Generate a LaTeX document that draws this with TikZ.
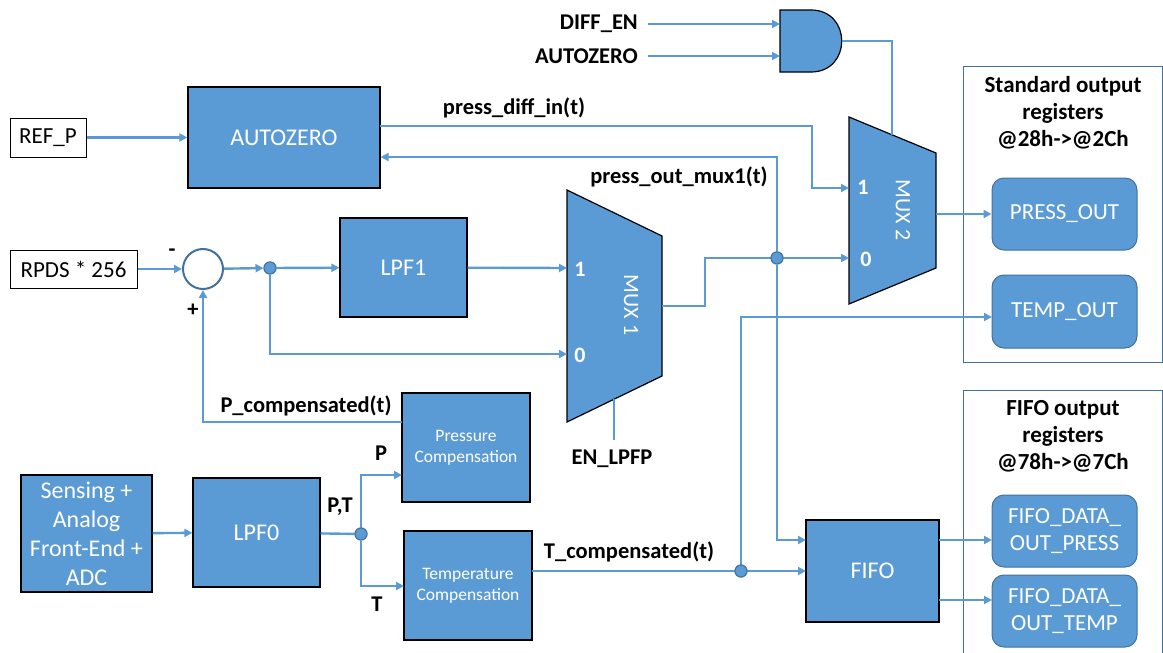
\documentclass[tikz,border=0pt]{standalone}
\usepackage{fontspec}
\setmainfont{Carlito}
\usetikzlibrary{positioning,arrows.meta}

\definecolor{blockblue}{HTML}{5B9BD5}
\definecolor{edgeblue}{HTML}{41719C}

\tikzset{
  wire/.style={draw=blockblue, line width=2.4pt},
  sig/.style={wire, -{Triangle[length=8pt,width=8pt]}},
  block/.style={draw=black, fill=blockblue, line width=1.2pt, text=white,
    align=center, inner sep=2pt, font=\fontsize{24}{29}\selectfont},
  smallblock/.style={block, font=\fontsize{17.5}{21}\selectfont},
  reg/.style={draw=edgeblue, fill=blockblue, line width=1pt, rounded corners=12pt,
    text=white, align=center, minimum width=145pt,
    font=\fontsize{23}{27}\selectfont},
  inbox/.style={draw=black, fill=white, line width=1pt,
    font=\fontsize{23}{26}\selectfont},
  group/.style={draw=edgeblue, line width=1pt},
  lbl/.style={font=\bfseries\fontsize{22.5}{27}\selectfont, inner sep=0pt, align=center},
  title/.style={font=\bfseries\fontsize{23}{27}\selectfont, inner sep=0pt, align=center},
  muxin/.style={font=\bfseries\fontsize{22}{24}\selectfont, text=white, inner sep=0pt},
  muxname/.style={font=\fontsize{22}{24}\selectfont, text=white, rotate=-90, inner sep=0pt},
  mux/.style={draw=black, fill=blockblue, line width=1.2pt},
  joint/.style={circle, draw=edgeblue, fill=blockblue, line width=1pt,
    minimum size=12pt, inner sep=0pt},
}

\begin{document}
\begin{tikzpicture}[x=1pt,y=-1pt]
\useasboundingbox (0,0) rectangle (1163,653);

% output register groups
\draw[group] (963,66) rectangle (1162,362);
\draw[group] (963,390) rectangle (1162,670);
\node[title] (stdtitle) at (1063,113) {Standard output\\registers\\@28h->@2Ch};
\node[title] (fifotitle) at (1063,436) {FIFO output\\registers\\@78h->@7Ch};

% inputs
\node[inbox, minimum width=76pt, minimum height=39pt] (refp) at (48,137.5) {REF\_P};
\node[inbox, minimum width=127pt, minimum height=38pt] (rpds) at (73.5,269) {RPDS * 256};

% blocks
\node[block, minimum width=192pt, minimum height=101pt] (autozero) at (284,137.5) {AUTOZERO};
\node[block, minimum width=127pt, minimum height=99pt] (lpf1) at (403.5,267.5) {LPF1};
\node[block, minimum width=131pt, minimum height=117pt] (sensing) at (86.5,533.5)
  {Sensing +\\Analog\\Front-End +\\ADC};
\node[block, minimum width=127pt, minimum height=109pt] (lpf0) at (256.5,532.5) {LPF0};
\node[smallblock, minimum width=128pt, minimum height=109pt] (prcomp) at (466,447.5)
  {Pressure\\Compensation};
\node[smallblock, minimum width=128pt, minimum height=109pt] (tcomp) at (468,585.5)
  {Temperature\\Compensation};
\node[block, minimum width=133pt, minimum height=102pt] (fifo) at (872.5,571) {FIFO};

% registers
\node[reg, minimum height=72pt] (pressout) at (1064.5,214) {PRESS\_OUT};
\node[reg, minimum height=73pt] (tempout) at (1064.5,311.5) {TEMP\_OUT};
\node[reg, minimum height=72pt] (fifopress) at (1064.5,531) {FIFO\_DATA\_\\OUT\_PRESS};
\node[reg, minimum height=72pt] (fifotemp) at (1064.5,611) {FIFO\_DATA\_\\OUT\_TEMP};

% summing point and joints
\node[circle, draw=edgeblue, fill=white, line width=2pt, minimum size=40pt, inner sep=0pt]
  (sum) at (203,269) {};
\node[joint] (j1) at (270,268) {};
\node[joint] (j2) at (361,534) {};
\node[joint] (j3) at (777,258) {};
\node[joint] (j4) at (741,571) {};

% multiplexers
\draw[mux] (567,190) -- (662,236) -- (662,376) -- (567,422) -- cycle;
\draw[mux] (849,117) -- (936,153) -- (936,268) -- (849,304) -- cycle;
\node[muxin] (m1one) at (580,269) {1};
\node[muxin] (m1zero) at (580,355) {0};
\node[muxname] (m1name) at (631,305) {MUX 1};
\node[muxin] (m2one) at (863,187) {1};
\node[muxin] (m2zero) at (866,259) {0};
\node[muxname] (m2name) at (903,210) {MUX 2};
\coordinate (m1in1) at (567,268);
\coordinate (m1in0) at (567,354);
\coordinate (m1out) at (662,306);
\coordinate (m1sel) at (614,399);
\coordinate (m2in1) at (849,188);
\coordinate (m2in0) at (849,258);
\coordinate (m2out) at (936,214);
\coordinate (m2sel) at (892,135);

% and gate
\draw[mux] (780,10) -- (811,10) .. controls (852,10) and (852,72) .. (811,72)
  -- (780,72) -- cycle;
\coordinate (andin1) at (780,24);
\coordinate (andin2) at (780,56);
\coordinate (andout) at (842,41);

% labels
\node[lbl, anchor=east] (diffen) at (638,24) {DIFF\_EN};
\node[lbl, anchor=east] (azsel) at (638,56) {AUTOZERO};
\node[lbl] (enlpfp) at (612,459) {EN\_LPFP};
\node[lbl] (pdiff) at (514,108) {press\_diff\_in(t)};
\node[lbl] (pmux) at (679,177) {press\_out\_mux1(t)};
\node[lbl] (pcomp) at (306,406) {P\_compensated(t)};
\node[lbl] (tcompl) at (629,552) {T\_compensated(t)};
\node[lbl] (ptl) at (340,507) {P,T};
\node[lbl] (pl) at (381,453) {P};
\node[lbl] (tl) at (377,604) {T};
\node[lbl] (minus) at (172,253) {-};
\node[lbl] (plus) at (193,310) {+};

% connectors
\coordinate (azout) at (380,126);
\coordinate (fb) at (777,157);
\coordinate (fifoin1) at (806,540);
\coordinate (fifoin2) at (806,571);
\coordinate (pcin) at (402,475);
\coordinate (tcin) at (404,586);
\coordinate (pcout) at (402,422);
\coordinate (tcout) at (532,571);
\coordinate (tempin) at (992,317);
\coordinate (fpin) at (992,540);
\coordinate (ftin) at (992,600);
\coordinate (fifoout1) at (939,540);
\coordinate (fifoout2) at (939,600);
\coordinate (selend) at (614,440);

\draw[sig] (refp) -- (autozero.west |- refp);
\draw[sig] (rpds) -- (sum);
\draw[sig] (sum) -- (j1);
\draw[sig] (j1) -- (lpf1);
\draw[sig] (j1) |- (m1in0);
\draw[sig] (lpf1) -- (m1in1);
\draw[sig] (m1out) -- ++(43,0) |- (m2in0);
\draw[sig] (azout) -- ++(432,0) |- (m2in1);
\draw[sig] (j3) -- (fb) -- (autozero.east |- fb);
\draw[sig] (j3) |- (fifoin1);
\draw[sig] (m2out) -- (pressout.west |- m2out);
\draw[wire] (andout) -| (m2sel);
\draw[sig] ([xshift=10pt]diffen.east) -- (andin1);
\draw[sig] ([xshift=10pt]azsel.east) -- (andin2);
\draw[wire] (m1sel) -- (selend);
\draw[sig] (sensing) -- (lpf0);
\draw[wire] (lpf0) -- (j2);
\draw[sig] (j2) |- (pcin);
\draw[sig] (j2) |- (tcin);
\draw[sig] (pcout) -| (sum.south);
\draw[sig] (tcout) -- (fifoin2);
\draw[sig] (j4) |- (tempin);
\draw[sig] (fifoout1) -- (fpin);
\draw[sig] (fifoout2) -- (ftin);

% redraw joints on top
\node[joint] at (j1) {};
\node[joint] at (j2) {};
\node[joint] at (j3) {};
\node[joint] at (j4) {};
\end{tikzpicture}
\end{document}
